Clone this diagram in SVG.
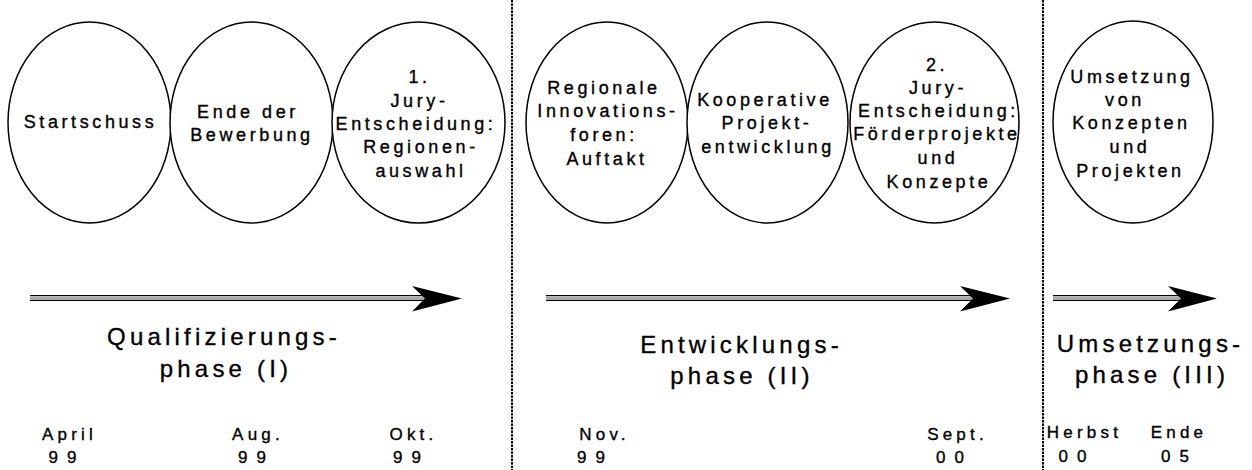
<svg xmlns="http://www.w3.org/2000/svg" width="1252" height="470" viewBox="0 0 1252 470">
<style>
.bg{fill:#fff}
.node ellipse{fill:#fff;stroke:#000;stroke-width:1.5}
.t,.ph,.d{font-family:"Liberation Sans",Arial,sans-serif;text-anchor:middle;fill:#000;stroke:#000;stroke-width:0.35}
.t{font-size:18px;letter-spacing:3.6px}
.ph{font-size:24px;letter-spacing:4.2px}
.d{font-size:17px;letter-spacing:4.2px}
.n{letter-spacing:9px}
.sep{stroke:#000;stroke-width:2;stroke-dasharray:2.5 1}
.s1{stroke:#000;stroke-width:6;fill:none}
.s2{stroke:#a8a8a8;stroke-width:3;fill:none}
.s3{stroke:#fff;stroke-width:0.8;fill:none}
.head{fill:#000}
</style>
<rect class="bg" x="0" y="0" width="1252" height="470"/>
<g id="separators">
<line class="sep" x1="512" y1="0" x2="512" y2="470"/>
<line class="sep" x1="1043" y1="0" x2="1043" y2="470"/>
</g>
<g id="node-startschuss" class="node">
<ellipse cx="89.5" cy="122.5" rx="81.5" ry="100.5"/>
<text class="t" x="90.5" y="128">Startschuss</text>
</g>
<g id="node-bewerbung" class="node">
<ellipse cx="251.5" cy="122.5" rx="81.5" ry="100.5"/>
<text class="t" x="248" y="118">Ende der</text>
<text class="t" x="252" y="141">Bewerbung</text>
</g>
<g id="node-jury1" class="node">
<ellipse cx="418.5" cy="122.5" rx="86.5" ry="100.5"/>
<text class="t" x="419.5" y="83">1.</text>
<text class="t" x="419.5" y="106.5">Jury-</text>
<text class="t" x="416" y="130">Entscheidung:</text>
<text class="t" x="421" y="153">Regionen-</text>
<text class="t" x="421" y="177">auswahl</text>
</g>
<g id="node-foren" class="node">
<ellipse cx="607" cy="122.5" rx="81" ry="100.5"/>
<text class="t" x="604" y="94">Regionale</text>
<text class="t" x="608" y="117">Innovations-</text>
<text class="t" x="604" y="141">foren:</text>
<text class="t" x="607" y="165">Auftakt</text>
</g>
<g id="node-kooperativ" class="node">
<ellipse cx="767.5" cy="122.5" rx="80.5" ry="100.5"/>
<text class="t" x="765" y="106">Kooperative</text>
<text class="t" x="767" y="129">Projekt-</text>
<text class="t" x="768" y="153">entwicklung</text>
</g>
<g id="node-jury2" class="node">
<ellipse cx="934.5" cy="122.5" rx="84.5" ry="100.5"/>
<text class="t" x="937" y="71">2.</text>
<text class="t" x="938" y="94">Jury-</text>
<text class="t" x="938.5" y="117">Entscheidung:</text>
<text class="t" x="937" y="140">Förderprojekte</text>
<text class="t" x="938" y="164">und</text>
<text class="t" x="939" y="188">Konzepte</text>
</g>
<g id="node-umsetzung" class="node">
<ellipse cx="1133" cy="122" rx="80" ry="101"/>
<text class="t" x="1132" y="83">Umsetzung</text>
<text class="t" x="1125" y="106">von</text>
<text class="t" x="1131.5" y="129">Konzepten</text>
<text class="t" x="1130" y="153">und</text>
<text class="t" x="1130.5" y="177">Projekten</text>
</g>
<g id="connectors">
<g id="arrow-1">
<line class="s1" x1="30" y1="298" x2="426" y2="298"/>
<line class="s2" x1="30" y1="298.5" x2="426" y2="298.5"/>
<line class="s3" x1="30" y1="296.6" x2="424" y2="296.6"/>
<path class="head" d="M462,298.5 L412,286 L425,298.5 L412,311.5 Z"/>
</g>
<g id="arrow-2">
<line class="s1" x1="546" y1="298" x2="974" y2="298"/>
<line class="s2" x1="546" y1="298.5" x2="974" y2="298.5"/>
<line class="s3" x1="546" y1="296.6" x2="972" y2="296.6"/>
<path class="head" d="M1010,298.5 L960,286 L973,298.5 L960,311.5 Z"/>
</g>
<g id="arrow-3">
<line class="s1" x1="1053" y1="298" x2="1182" y2="298"/>
<line class="s2" x1="1053" y1="298.5" x2="1182" y2="298.5"/>
<line class="s3" x1="1053" y1="296.6" x2="1180" y2="296.6"/>
<path class="head" d="M1217,298.5 L1168,286 L1181,298.5 L1168,311.5 Z"/>
</g>
</g>
<g id="phase-labels">
<text class="ph" x="224" y="345">Qualifizierungs-</text>
<text class="ph" x="226" y="377">phase (I)</text>
<text class="ph" x="741.5" y="353">Entwicklungs-</text>
<text class="ph" x="742" y="384">phase (II)</text>
<text class="ph" x="1150.5" y="352">Umsetzungs-</text>
<text class="ph" x="1152" y="383">phase (III)</text>
</g>
<g id="dates">
<text class="d" x="69.5" y="440">April</text>
<text class="d n" x="67" y="463">99</text>
<text class="d" x="258" y="440">Aug.</text>
<text class="d n" x="256.5" y="463">99</text>
<text class="d" x="413.5" y="440">Okt.</text>
<text class="d n" x="411.5" y="463">99</text>
<text class="d" x="604.5" y="440">Nov.</text>
<text class="d n" x="595.5" y="463">99</text>
<text class="d" x="957.5" y="440">Sept.</text>
<text class="d n" x="954.5" y="463">00</text>
<text class="d" x="1084.5" y="438">Herbst</text>
<text class="d n" x="1077" y="462">00</text>
<text class="d" x="1179" y="438">Ende</text>
<text class="d n" x="1179.5" y="462">05</text>
</g>
</svg>
